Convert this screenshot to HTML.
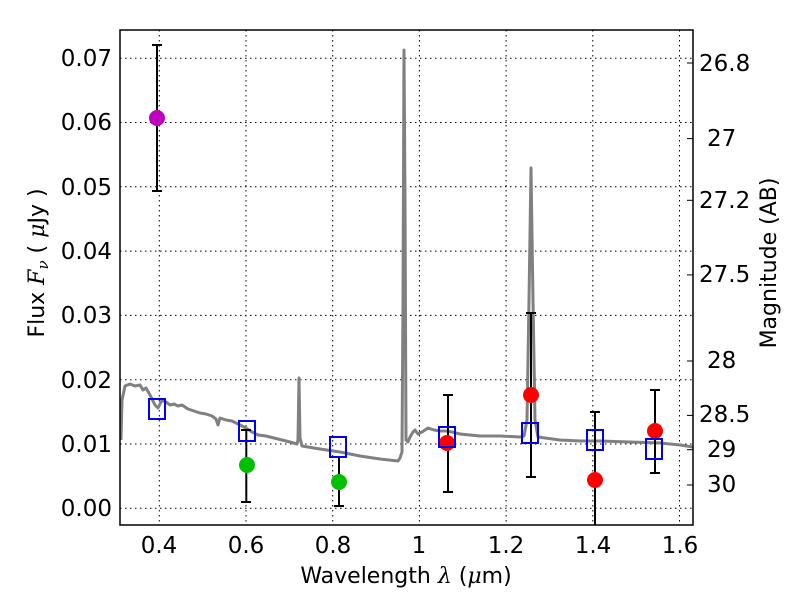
<!DOCTYPE html>
<html><head><meta charset="utf-8"><style>body{margin:0;background:#fff}svg{display:block}text{font-family:"DejaVu Sans","Liberation Sans",sans-serif;fill:#000}</style></head>
<body>
<svg width="800" height="600" viewBox="0 0 800 600" xmlns="http://www.w3.org/2000/svg">
<rect width="800" height="600" fill="#fff"/>
<g stroke="#000" stroke-width="1" stroke-dasharray="1.5,3.5">
<line x1="159.3" y1="30" x2="159.3" y2="525"/><line x1="246" y1="30" x2="246" y2="525"/><line x1="332.7" y1="30" x2="332.7" y2="525"/><line x1="419.4" y1="30" x2="419.4" y2="525"/><line x1="506.1" y1="30" x2="506.1" y2="525"/><line x1="592.8" y1="30" x2="592.8" y2="525"/><line x1="679.5" y1="30" x2="679.5" y2="525"/>
<line x1="120" y1="508.3" x2="693" y2="508.3"/><line x1="120" y1="444" x2="693" y2="444"/><line x1="120" y1="379.7" x2="693" y2="379.7"/><line x1="120" y1="315.4" x2="693" y2="315.4"/><line x1="120" y1="251.1" x2="693" y2="251.1"/><line x1="120" y1="186.8" x2="693" y2="186.8"/><line x1="120" y1="122.5" x2="693" y2="122.5"/><line x1="120" y1="58.2" x2="693" y2="58.2"/>
</g>
<polyline fill="none" stroke="#808080" stroke-width="3" stroke-linejoin="round" points="121,440 122,400 125,386 130,384 135,386 140,385 143,390 146,388 150,395 155,405 158,408 162,400 166,402 170,405 174,404 178,406 182,405 188,409 194,411 200,413 206,414 212,416 216,419 218,425 220,418 226,420 232,421 240,425 246,428 252,432 258,435 266,436 274,438 282,440 290,442 297,444 298,440 299,378 300,438 302,446 320,449 340,452 360,456 380,459 398,461 400,458 402,452 403,300 404,50 405,200 406,440 408,442 410,437 413,432 415,430 418,434 422,432 428,428 434,430 440,431 446,431 452,432 460,434 470,435 480,436 500,436 520,437 524,436 527,420 529,300 531,168 533,300 535,420 538,437 545,438 560,440 580,441 600,441 630,442 660,443 680,445 693,447"/>
<g stroke="#000" stroke-width="2">
<line x1="157" y1="45" x2="157" y2="191"/><line x1="152" y1="45" x2="162" y2="45"/><line x1="152" y1="191" x2="162" y2="191"/>
<line x1="246.3" y1="430" x2="246.3" y2="502"/><line x1="241" y1="430" x2="251" y2="430"/><line x1="241" y1="502" x2="251" y2="502"/>
<line x1="339" y1="457" x2="339" y2="506"/><line x1="334" y1="457" x2="344" y2="457"/><line x1="334" y1="506" x2="344" y2="506"/>
<line x1="448" y1="395" x2="448" y2="492"/><line x1="443" y1="395" x2="453" y2="395"/><line x1="443" y1="492" x2="453" y2="492"/>
<line x1="531" y1="313" x2="531" y2="477"/><line x1="526" y1="313" x2="536" y2="313"/><line x1="526" y1="477" x2="536" y2="477"/>
<line x1="595" y1="412" x2="595" y2="525"/><line x1="590" y1="412" x2="600" y2="412"/>
<line x1="655" y1="390" x2="655" y2="473"/><line x1="650" y1="390" x2="660" y2="390"/><line x1="650" y1="473" x2="660" y2="473"/>
</g>
<circle cx="157" cy="118" r="8" fill="#bf00bf"/>
<circle cx="247" cy="465" r="8" fill="#00c000"/><circle cx="339" cy="482" r="8" fill="#00c000"/>
<g fill="#ff0000"><circle cx="447" cy="443" r="8"/><circle cx="531" cy="395" r="8"/><circle cx="595" cy="480" r="8"/><circle cx="655" cy="431" r="8"/></g>
<g fill="none" stroke="#0000ff" stroke-width="2">
<rect x="149" y="399" width="16" height="20"/><rect x="239" y="421" width="16" height="20"/><rect x="330" y="437" width="16" height="20"/><rect x="439" y="427" width="16" height="20"/><rect x="522" y="423" width="16" height="20"/><rect x="587" y="430" width="16" height="20"/><rect x="646" y="439" width="16" height="20"/>
</g>
<rect x="120" y="30" width="573" height="495" fill="none" stroke="#000" stroke-width="1.5"/>
<g stroke="#000" stroke-width="1">
<line x1="693" y1="63" x2="687" y2="63"/><line x1="693" y1="138.6" x2="687" y2="138.6"/><line x1="693" y1="200.3" x2="687" y2="200.3"/><line x1="693" y1="274.9" x2="687" y2="274.9"/><line x1="693" y1="361" x2="687" y2="361"/><line x1="693" y1="415.4" x2="687" y2="415.4"/><line x1="693" y1="449.7" x2="687" y2="449.7"/><line x1="693" y1="485" x2="687" y2="485"/>
</g>
<g font-size="23" text-anchor="end">
<text x="112" y="516">0.00</text><text x="112" y="452">0.01</text><text x="112" y="388">0.02</text><text x="112" y="323">0.03</text><text x="112" y="259">0.04</text><text x="112" y="195">0.05</text><text x="112" y="130">0.06</text><text x="112" y="66">0.07</text>
</g>
<g font-size="23" text-anchor="middle">
<text x="159" y="553">0.4</text><text x="246" y="553">0.6</text><text x="333" y="553">0.8</text><text x="419" y="553">1</text><text x="506" y="553">1.2</text><text x="593" y="553">1.4</text><text x="680" y="553">1.6</text>
</g>
<text font-size="22" text-anchor="middle" x="406" y="583">Wavelength  <tspan font-style="italic" font-family="DejaVu Serif,serif">λ</tspan> (<tspan font-style="italic" font-family="DejaVu Serif,serif">μ</tspan>m)</text>
<g font-size="23">
<text x="699" y="71">26.8</text><text x="707" y="146">27</text><text x="699" y="208">27.2</text><text x="699" y="282">27.5</text><text x="707" y="368">28</text><text x="699" y="422">28.5</text><text x="707" y="457">29</text><text x="707" y="492">30</text>
</g>
<text font-size="22" text-anchor="middle" transform="translate(44,263) rotate(-90)">Flux  <tspan font-style="italic" font-family="DejaVu Serif,serif">F</tspan><tspan font-style="italic" font-size="15" dy="4" font-family="DejaVu Serif,serif">ν</tspan><tspan dy="-4">  ( </tspan><tspan font-style="italic" font-family="DejaVu Serif,serif">μ</tspan>Jy )</text>
<text font-size="22" text-anchor="middle" transform="translate(776,263) rotate(-90)">Magnitude (AB)</text>
</svg>
</body></html>
